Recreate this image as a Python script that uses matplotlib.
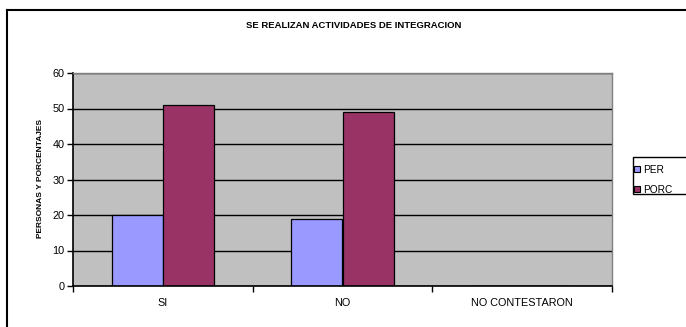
import matplotlib
matplotlib.use("Agg")
import matplotlib.pyplot as plt
import numpy as np
from matplotlib.lines import Line2D
from matplotlib.patches import Patch, Rectangle

plt.rcParams["font.family"] = ["Liberation Sans", "DejaVu Sans"]

# survey answers
categorias = ["SI", "NO", "NO CONTESTARON"]
per = [20, 19, 0]
porc = [51, 49, 0]
series = ["PER", "PORC"]
yticks = [0, 10, 20, 30, 40, 50, 60]

COL_PER = "#9999FF"
COL_PORC = "#993366"
FONDO = "#C0C0C0"

W, H = 686, 327
fig = plt.figure(figsize=(W / 100, H / 100), dpi=100)
fig.patch.set_facecolor("white")

# plot area in pixel terms -> figure fractions
x0, x1, y0, y1 = 73, 612, 73, 286
ax = fig.add_axes([x0 / W, 1 - y1 / H, (x1 - x0) / W, (y1 - y0) / H])
ax.set_facecolor(FONDO)

x = np.arange(len(categorias))
ancho = 0.285
ax.set_axisbelow(True)
ax.yaxis.grid(True, color="black", linewidth=1.0)
ax.bar(x - ancho / 2, per, ancho, color=COL_PER, edgecolor="black", linewidth=0.9)
ax.bar(x + ancho / 2, porc, ancho, color=COL_PORC, edgecolor="black", linewidth=0.9)

ax.set_xlim(-0.5, len(categorias) - 0.5)
ax.set_ylim(0, 60)
ax.set_yticks(yticks)
ax.set_yticklabels([str(v) for v in yticks], fontsize=7.8)

# category labels between boundary ticks
ax.set_xticks(np.arange(len(categorias) + 1) - 0.5)
ax.set_xticklabels([])
ax.set_xticks(x, minor=True)
ax.set_xticklabels(categorias, minor=True, fontsize=7.8)
ax.tick_params(axis="x", which="minor", length=0, pad=9)
ax.tick_params(axis="x", which="major", length=4, width=1, direction="out")
ax.tick_params(axis="y", length=4, width=1, direction="out", pad=2)

for s in ["top", "right"]:
    ax.spines[s].set_color("#808080")
    ax.spines[s].set_linewidth(1.0)
for s in ["left", "bottom"]:
    ax.spines[s].set_color("black")
    ax.spines[s].set_linewidth(1.2)

fig.text(40 / W, 1 - 179 / H, "PERSONAS Y PORCENTAJES", rotation=90,
         ha="center", va="center", fontsize=6, fontweight="bold")

fig.text(354 / W, 1 - 25 / H, "SE REALIZAN ACTIVIDADES DE INTEGRACION",
         ha="center", va="center", fontsize=6.8, fontweight="bold")

# chart frame (runs off the right and bottom edges)
fx, fy = 7 / W, 1 - 10 / H
fig.add_artist(Line2D([fx, fx], [0, fy], transform=fig.transFigure,
                      color="black", linewidth=1.5))
fig.add_artist(Line2D([fx, 1], [fy, fy], transform=fig.transFigure,
                      color="black", linewidth=1.5))

# legend box, also cut by the right edge
fig.add_artist(Rectangle((633 / W, 1 - 194 / H), 60 / W, 37 / H,
                         transform=fig.transFigure, facecolor="white",
                         edgecolor="black", linewidth=1.0))
handles = [Patch(facecolor=COL_PER, edgecolor="black", linewidth=0.8),
           Patch(facecolor=COL_PORC, edgecolor="black", linewidth=0.8)]
leg = fig.legend(handles, series, loc="upper left",
                 bbox_to_anchor=(634 / W, 1 - 165 / H), fontsize=7.3,
                 handlelength=0.55, handleheight=0.55, handletextpad=0.35,
                 borderpad=0.0, labelspacing=0.95, borderaxespad=0,
                 frameon=False)

fig.savefig("out.png", dpi=100)
